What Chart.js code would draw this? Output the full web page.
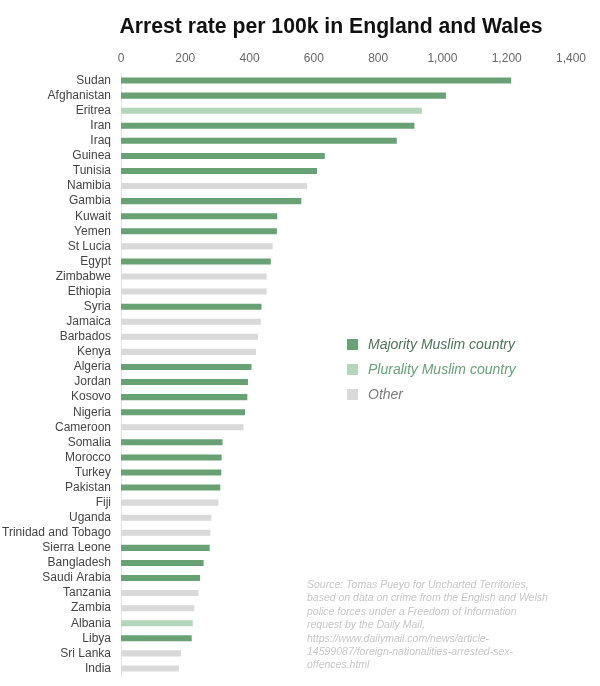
<!DOCTYPE html>
<html lang="en">
<head>
    <meta charset="UTF-8">
    <title>Arrest rate per 100k in England and Wales</title>
    <script src="https://cdn.jsdelivr.net/npm/chart.js"></script>
    <style>
        body {
            margin: 0;
            background: #fff;
            font-family: 'Liberation Sans', Arial, sans-serif;
        }

        .wrap {
            position: relative;
            width: 600px;
            height: 686px;
            overflow: hidden;
        }

        .title {
            position: absolute;
            left: 0;
            width: 662px;
            top: 14px;
            text-align: center;
            font-size: 21.2px;
            font-weight: bold;
            color: #111;
        }

        /* Legend */
        .legend {
            position: absolute;
            left: 347px;
            top: 335px;
            font-style: italic;
            font-size: 14px;
        }

        .legend div {
            height: 25px;
            line-height: 18px;
        }

        .legend span {
            display: inline-block;
            width: 11px;
            height: 11px;
            margin-right: 10px;
            vertical-align: -1px;
        }

        .source {
            position: absolute;
            left: 307px;
            top: 578px;
            font-style: italic;
            font-size: 10.5px;
            line-height: 13.4px;
            color: #c6c6c6;
        }
    </style>
</head>
<body>
    <div class="wrap">
        <canvas id="chart" width="600" height="686"></canvas>
        <div class="title">Arrest rate per 100k in England and Wales</div>

        <div class="legend">
            <div style="color:#4e7359"><span style="background:#68a173"></span>Majority Muslim country</div>
            <div style="color:#69a077"><span style="background:#b3d5b9"></span>Plurality Muslim country</div>
            <div style="color:#7c7c7c"><span style="background:#d9d9d9"></span>Other</div>
        </div>

        <div class="source">
            Source: Tomas Pueyo for Uncharted Territories,<br>
            based on data on crime from the English and Welsh<br>
            police forces under a Freedom of Information<br>
            request by the Daily Mail,<br>
            https://www.dailymail.com/news/article-<br>
            14599087/foreign-nationalities-arrested-sex-<br>
            offences.html
        </div>
    </div>

    <script>
        const countries = [
            "Sudan", "Afghanistan", "Eritrea", "Iran", "Iraq", "Guinea", "Tunisia", "Namibia",
            "Gambia", "Kuwait", "Yemen", "St Lucia", "Egypt", "Zimbabwe", "Ethiopia", "Syria",
            "Jamaica", "Barbados", "Kenya", "Algeria", "Jordan", "Kosovo", "Nigeria", "Cameroon",
            "Somalia", "Morocco", "Turkey", "Pakistan", "Fiji", "Uganda", "Trinidad and Tobago",
            "Sierra Leone", "Bangladesh", "Saudi Arabia", "Tanzania", "Zambia", "Albania", "Libya",
            "Sri Lanka", "India"
        ];

        const rates = [
            1214, 1011, 936, 913, 858, 634, 610, 579,
            561, 486, 485, 472, 466, 453, 453, 437,
            435, 426, 420, 406, 395, 393, 386, 381,
            316, 313, 312, 309, 303, 281, 278,
            276, 257, 246, 241, 228, 223, 220,
            187, 180
        ];

        // M = majority Muslim, P = plurality Muslim, O = other
        const groups = [
            "M", "M", "P", "M", "M", "M", "M", "O",
            "M", "M", "M", "O", "M", "O", "O", "M",
            "O", "O", "O", "M", "M", "M", "M", "O",
            "M", "M", "M", "M", "O", "O", "O",
            "M", "M", "M", "O", "O", "P", "M",
            "O", "O"
        ];

        const xTicks = [0, 200, 400, 600, 800, 1000, 1200, 1400];

        const groupColors = { M: "#68a173", P: "#b3d5b9", O: "#d9d9d9" };

        new Chart(document.getElementById('chart'), {
            type: 'bar',
            data: {
                labels: countries,
                datasets: [{
                    data: rates,
                    backgroundColor: groups.map(g => groupColors[g]),
                    borderWidth: 0,
                    barPercentage: 0.4,
                    categoryPercentage: 1
                }]
            },
            options: {
                indexAxis: 'y',
                responsive: false,
                animation: false,
                layout: {
                    padding: { top: 45, right: 29, bottom: 10, left: 0 }
                },
                scales: {
                    x: {
                        position: 'top',
                        min: xTicks[0],
                        max: xTicks[xTicks.length - 1],
                        afterBuildTicks: axis => {
                            axis.ticks = xTicks.map(v => ({ value: v }));
                        },
                        grid: { display: false, drawTicks: false },
                        border: { display: false },
                        ticks: {
                            padding: 7,
                            color: '#666',
                            font: { family: 'Liberation Sans', size: 12 },
                            callback: v => v.toLocaleString('en-US')
                        },
                        afterFit: axis => { axis.height = 28; }
                    },
                    y: {
                        grid: { display: false, drawTicks: false },
                        border: { display: true, color: '#e2e2e2', width: 1 },
                        ticks: {
                            autoSkip: false,
                            padding: 10,
                            color: '#444',
                            font: { family: 'Liberation Sans', size: 12 }
                        },
                        afterFit: axis => {
                            axis.width = 121;
                            // labels sit inside their bands, no extra room needed
                            axis.paddingTop = 0;
                            axis.paddingBottom = 0;
                        }
                    }
                },
                plugins: {
                    legend: { display: false },
                    tooltip: { enabled: false }
                }
            }
        });
    </script>
</body>
</html>
